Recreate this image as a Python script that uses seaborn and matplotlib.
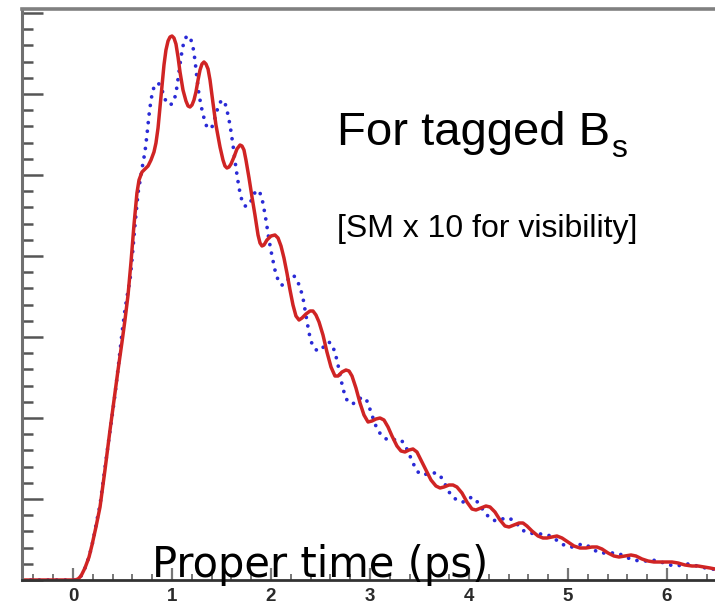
import matplotlib
matplotlib.use("Agg")
import matplotlib.pyplot as plt
from matplotlib.ticker import MultipleLocator
import seaborn as sns
import pandas as pd

# ---- data: proper time (ps) and event density (arbitrary units) ----
red_t = [-0.515, 0.020, 0.051, 0.081, 0.121, 0.162, 0.192, 0.232, 0.273, 0.323,
         0.374, 0.414, 0.455, 0.495, 0.525, 0.556, 0.586, 0.616, 0.646, 0.667,
         0.697, 0.727, 0.758, 0.788, 0.818, 0.838, 0.859, 0.879, 0.899, 0.919,
         0.939, 0.960, 0.980, 1.000, 1.020, 1.040, 1.061, 1.081, 1.111, 1.141,
         1.162, 1.182, 1.202, 1.222, 1.242, 1.263, 1.283, 1.303, 1.323, 1.343,
         1.364, 1.384, 1.414, 1.444, 1.485, 1.515, 1.535, 1.555, 1.576, 1.596,
         1.626, 1.656, 1.687, 1.707, 1.727, 1.747, 1.778, 1.808, 1.838, 1.869,
         1.889, 1.909, 1.929, 1.959, 2.000, 2.040, 2.071, 2.101, 2.131, 2.161,
         2.192, 2.222, 2.252, 2.283, 2.313, 2.353, 2.394, 2.424, 2.454, 2.485,
         2.525, 2.565, 2.606, 2.646, 2.677, 2.717, 2.757, 2.788, 2.818, 2.858,
         2.899, 2.939, 2.980, 3.020, 3.060, 3.101, 3.141, 3.182, 3.222, 3.272,
         3.313, 3.353, 3.394, 3.434, 3.474, 3.515, 3.565, 3.616, 3.666, 3.707,
         3.747, 3.798, 3.838, 3.878, 3.929, 3.979, 4.030, 4.070, 4.121, 4.171,
         4.212, 4.262, 4.313, 4.363, 4.404, 4.454, 4.505, 4.545, 4.585, 4.636,
         4.697, 4.747, 4.787, 4.838, 4.888, 4.939, 5.000, 5.060, 5.121, 5.181,
         5.242, 5.292, 5.343, 5.404, 5.464, 5.515, 5.575, 5.636, 5.686, 5.747,
         5.808, 5.868, 5.929, 5.989, 6.050, 6.111, 6.181, 6.252, 6.313, 6.373,
         6.434, 6.484, 6.535]
red_y = [0, 0, 1, 4, 12, 23, 35, 53, 73, 110,
         150, 180, 210, 238, 260, 285, 318, 355, 387, 400,
         408, 411, 414, 420, 428, 437, 452, 473, 495, 515,
         530, 539, 543, 544, 542, 536, 523, 508, 490, 479,
         474, 473, 475, 480, 488, 500, 510, 516, 518, 516,
         511, 500, 477, 455, 433, 420, 414, 412, 413, 416,
         423, 431, 435, 434, 430, 420, 402, 383, 365, 345,
         337, 334, 335, 340, 344, 345, 342, 334, 322, 307,
         290, 275, 264, 260, 262, 266, 269, 269, 265, 258,
         245, 228, 213, 204, 204, 208, 210, 209, 204, 192,
         177, 165, 158, 159, 161, 162, 160, 153, 144, 134,
         129, 128, 130, 131, 128, 120, 110, 100, 94, 92,
         93, 95, 95, 93, 87, 78, 71, 70, 72, 74,
         73, 68, 60, 54, 53, 55, 57, 57, 54, 49,
         44, 42, 42, 43, 44, 42, 38, 34, 32, 32,
         33, 33, 31, 27, 24, 23, 24, 25, 24, 21,
         19, 18, 18, 18, 18, 17, 15, 14, 14, 13,
         12, 11, 10]

blue_t = [-0.515, 0.020, 0.051, 0.081, 0.131, 0.172, 0.202, 0.242, 0.273, 0.313,
          0.354, 0.394, 0.424, 0.465, 0.495, 0.525, 0.545, 0.576, 0.596, 0.626,
          0.657, 0.687, 0.707, 0.727, 0.747, 0.768, 0.788, 0.808, 0.828, 0.848,
          0.869, 0.889, 0.909, 0.929, 0.949, 0.980, 1.010, 1.030, 1.050, 1.071,
          1.091, 1.111, 1.131, 1.151, 1.172, 1.192, 1.212, 1.232, 1.252, 1.273,
          1.303, 1.333, 1.353, 1.374, 1.404, 1.434, 1.465, 1.495, 1.515, 1.535,
          1.555, 1.586, 1.616, 1.646, 1.677, 1.707, 1.737, 1.768, 1.798, 1.828,
          1.858, 1.889, 1.919, 1.949, 1.980, 2.010, 2.040, 2.071, 2.101, 2.131,
          2.161, 2.192, 2.222, 2.252, 2.293, 2.323, 2.353, 2.384, 2.414, 2.444,
          2.475, 2.505, 2.545, 2.576, 2.606, 2.646, 2.677, 2.707, 2.737, 2.767,
          2.808, 2.848, 2.889, 2.929, 2.969, 3.010, 3.050, 3.091, 3.131, 3.182,
          3.232, 3.283, 3.323, 3.363, 3.404, 3.444, 3.485, 3.525, 3.575, 3.626,
          3.676, 3.717, 3.757, 3.798, 3.838, 3.889, 3.939, 3.990, 4.030, 4.070,
          4.121, 4.171, 4.222, 4.272, 4.313, 4.363, 4.404, 4.454, 4.505, 4.555,
          4.616, 4.676, 4.737, 4.798, 4.858, 4.919, 4.979, 5.040, 5.101, 5.151,
          5.202, 5.262, 5.323, 5.383, 5.444, 5.494, 5.545, 5.606, 5.666, 5.727,
          5.787, 5.848, 5.909, 5.969, 6.030, 6.090, 6.151, 6.212, 6.272, 6.333,
          6.393, 6.454, 6.535]
blue_y = [0, 0, 1, 4, 14, 27, 39, 60, 75, 105,
          135, 163, 185, 220, 247, 270, 283, 300, 320, 355,
          387, 405, 417, 428, 445, 465, 480, 490, 495, 497,
          496, 493, 487, 481, 477, 475, 477, 483, 493, 508,
          523, 534, 541, 544, 544, 540, 533, 520, 502, 485,
          470, 458, 453, 451, 453, 462, 473, 479, 480, 477,
          470, 455, 435, 412, 392, 379, 374, 374, 379, 386,
          390, 387, 377, 360, 340, 324, 310, 300, 295, 295,
          299, 303, 305, 302, 293, 282, 265, 247, 236, 231,
          229, 230, 235, 238, 237, 228, 215, 200, 188, 180,
          176, 177, 181, 183, 179, 168, 156, 148, 143, 140,
          140, 141, 139, 133, 124, 115, 108, 105, 106, 107,
          107, 103, 96, 88, 83, 79, 78, 81, 83, 80,
          73, 66, 61, 59, 60, 62, 62, 59, 54, 49,
          47, 46, 46, 45, 42, 37, 34, 33, 35, 36,
          34, 30, 27, 27, 27, 27, 25, 22, 20, 19,
          19, 20, 19, 17, 15, 14, 15, 16, 15, 13,
          12, 11, 10]

x_ticks = [0, 1, 2, 3, 4, 5, 6]
x_ticklabels = ["0", "1", "2", "3", "4", "5", "6"]

red_df = pd.DataFrame({"t": red_t, "n": red_y})
blue_df = pd.DataFrame({"t": blue_t, "n": blue_y})

sns.set_style("white")
plt.rcParams["font.family"] = ["Liberation Sans", "DejaVu Sans"]

W, H = 715, 610
fig = plt.figure(figsize=(W / 100, H / 100), dpi=100)
ax = fig.add_axes([22 / W, 30 / H, (720 - 22) / W, (580 - 9) / H])

sns.lineplot(data=blue_df, x="t", y="n", ax=ax, estimator=None, sort=False,
             color="#2a2ad6", linewidth=2.7, linestyle=(0, (0.01, 2.3)),
             dash_capstyle="round")
sns.lineplot(data=red_df, x="t", y="n", ax=ax, estimator=None, sort=False,
             color="#d02424", linewidth=2.5, solid_joinstyle="round")

ax.set_xlim(-0.515, 6.535)
ax.set_ylim(0, 571)
ax.set_xlabel("")
ax.set_ylabel("")

ax.set_xticks(x_ticks)
ax.set_xticklabels(x_ticklabels, fontsize=13.5, fontweight="bold", color="#2a2a2a")
ax.xaxis.set_minor_locator(MultipleLocator(0.2))
ax.yaxis.set_major_locator(MultipleLocator(81))
ax.yaxis.set_minor_locator(MultipleLocator(16.2))
ax.tick_params(axis="x", which="major", direction="in", length=9, width=1.6,
               color="#777777", pad=6, bottom=True, top=False)
ax.tick_params(axis="x", which="minor", direction="in", length=4, width=1.4,
               color="#777777", bottom=True, top=False)
ax.tick_params(axis="y", which="major", direction="in", length=15, width=1.8,
               color="#555555", left=True, right=False, labelleft=False)
ax.tick_params(axis="y", which="minor", direction="in", length=8, width=1.8,
               color="#555555", left=True, right=False)

for side in ["left", "top", "bottom"]:
    ax.spines[side].set_visible(True)
ax.spines["right"].set_visible(False)
ax.spines["left"].set_color("#707070")
ax.spines["left"].set_linewidth(2.2)
ax.spines["top"].set_color("#808080")
ax.spines["top"].set_linewidth(2.6)
ax.spines["bottom"].set_color("#333333")
ax.spines["bottom"].set_linewidth(2.0)

fig.text(337 / W, 1 - 145 / H, "For tagged B", fontsize=34,
         family="Liberation Sans", color="black", va="baseline", ha="left")
fig.text(611 / W, 1 - 157 / H, "s", fontsize=23,
         family="Liberation Sans", color="black", va="baseline", ha="left")
fig.text(337 / W, 1 - 237 / H, "[SM x 10 for visibility]", fontsize=23,
         family="Liberation Sans", color="black", va="baseline", ha="left")
fig.text(152 / W, 1 - 577 / H, "Proper time (ps)", fontsize=30,
         family="DejaVu Sans", color="black", va="baseline", ha="left")

fig.savefig("out.png", dpi=100)
